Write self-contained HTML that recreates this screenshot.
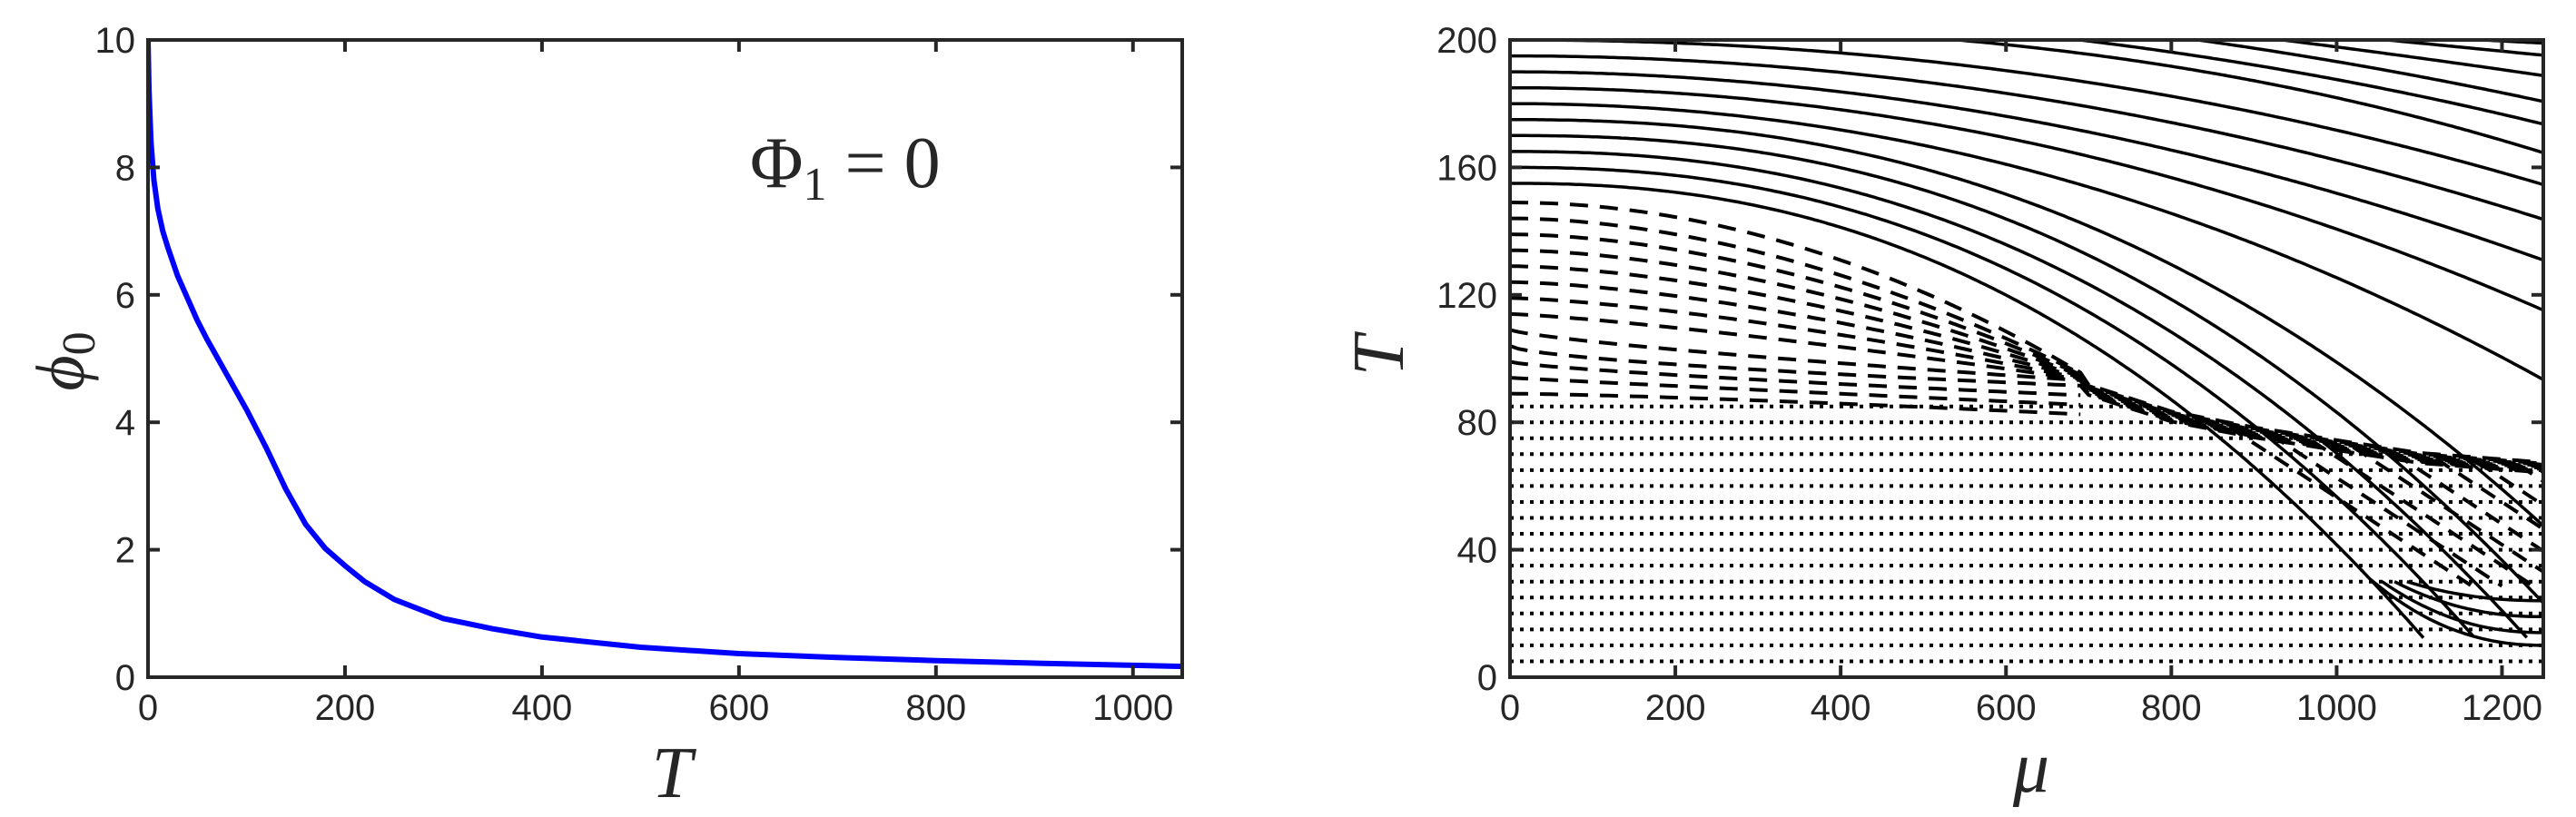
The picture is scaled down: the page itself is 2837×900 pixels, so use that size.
<!DOCTYPE html>
<html><head><meta charset="utf-8">
<style>
html,body{margin:0;padding:0;background:#fff;}
svg{display:block;}
.tk{font-family:"Liberation Sans",sans-serif;font-size:40px;fill:#262626;}
.lab{font-family:"Liberation Serif",serif;font-style:italic;fill:#262626;}
</style></head>
<body>
<svg id="fig" width="2837" height="900" viewBox="0 0 2837 900" xmlns="http://www.w3.org/2000/svg">
<defs>
<clipPath id="clipL"><rect x="163" y="44" width="1139" height="702"/></clipPath>
<clipPath id="clipR"><rect x="1663" y="44" width="1138" height="702"/></clipPath>
</defs>
<g id="left"></g>
<g id="right"></g>
<text class="lab" x="0" y="0" font-size="76" text-anchor="middle" transform="translate(92,398) rotate(-90)">ϕ<tspan font-style="normal" font-size="52" dy="12">0</tspan></text>
<text class="lab" x="740" y="878" font-size="80" text-anchor="middle">T</text>
<text x="826" y="206" font-family="'Liberation Serif',serif" font-size="80" fill="#262626">Φ<tspan font-size="52" dy="14">1</tspan><tspan dy="-14"> = 0</tspan></text>
<text class="lab" x="0" y="0" font-size="80" text-anchor="middle" transform="translate(1545,392) rotate(-90)">T</text>
<text class="lab" x="2237" y="872" font-size="80" text-anchor="middle">μ</text>
</svg>
<script>
// ---------- left chart data ----------
const leftT = [0,1,3,6,10,15,20,30,40,50,60,80,100,120,140,160,180,200,220,250,300,350,400,500,600,700,800,900,1050];
const leftPhi = [10,9.2,8.4,7.8,7.35,7.0,6.75,6.3,5.95,5.6,5.3,4.75,4.2,3.6,2.95,2.4,2.02,1.75,1.5,1.22,0.92,0.76,0.63,0.47,0.37,0.31,0.26,0.22,0.17];
const leftXTicks = [0,200,400,600,800,1000];
const leftYTicks = [0,2,4,6,8,10];
// ---------- right chart data ----------
const rightXTicks = [0,200,400,600,800,1000,1200];
const rightYTicks = [0,40,80,120,160,200];
const solidT0  = [155,160,165,170,175,180,185,190,195,200,205,210,215,220,225,230];
const solidMuA = [480,480,480,480,480,480,480,480,480,480,541,689,832,934,1061,1176];
const solidTA  = [134,141,147.5,154.5,161,168,175,181,187.5,194,200,200,200,200,200,200];
const solidMuB = [930,990,1050,1110,1200,1250,1250,1250,1250,1250,1250,1250,1250,1250,1250,1250];
const solidTB  = [59,59,59,59,59,93.4,115.2,130.9,143.7,154.6,164.6,173.6,180.7,188.8,195.2,199];
const tailExitT = [10,14,19,24];
const dashedT0 = [89,94,99,104,109,114,119,124,129,134,139,144,149];
const dashedT480 = [85,88,91,94,97,101,104,107,110,113,116,119,123];
const envMu = [680,800,900,1000,1100,1250];
const envT = [92,82,77,73,69,66];
const lowerDashStart = [820,870,920,970,1020,1070,1120,1170,1220];
const dottedT = [5,10,15,20,25,30,35,40,45,50,55,60,65,70,75,80,85];

const NS = "http://www.w3.org/2000/svg";
function mk(tag, attrs, parent){const e=document.createElementNS(NS,tag);for(const k in attrs)e.setAttribute(k,attrs[k]);parent.appendChild(e);return e;}

const LX = t => 163 + t*(1139/1050);
const LY = p => 746 - p*70.2;
const RX = m => 1663 + m*(1138/1250);
const RY = T => 746 - T*3.51;

function frame(g, x0,y0,x1,y1, xt, yt, fx, fy, nameP){
  xt.forEach(v=>{
    const x=fx(v);
    const t1=mk('line',{x1:x,x2:x,y1:y1,y2:y1-13,stroke:'#262626','stroke-width':4},g);
    
    
    mk('line',{x1:x,x2:x,y1:y0,y2:y0+13,stroke:'#262626','stroke-width':4},g);
    const tx=mk('text',{x:x,y:793,'text-anchor':'middle',class:'tk'},g);
    tx.textContent=v;
    
    
  });
  yt.forEach(v=>{
    const y=fy(v);
    mk('line',{x1:x0,x2:x0+13,y1:y,y2:y,stroke:'#262626','stroke-width':4},g);
    mk('line',{x1:x1,x2:x1-13,y1:y,y2:y,stroke:'#262626','stroke-width':4},g);
    const tx=mk('text',{x:x0-14,y:y+14,'text-anchor':'end',class:'tk'},g);
    tx.textContent=v;
    
    
  });
  const r=mk('rect',{x:x0,y:y0,width:x1-x0,height:y1-y0,fill:'none',stroke:'#262626','stroke-width':4},g);
  
  
}

// ---- left chart ----
const gL=document.getElementById('left');
const pl=mk('polyline',{points:leftT.map((t,i)=>LX(t)+','+LY(leftPhi[i])).join(' '),fill:'none',stroke:'#0000ff','stroke-width':6,'stroke-linejoin':'round','clip-path':'url(#clipL)'},gL);


frame(gL,163,44,1302,746,leftXTicks,leftYTicks,LX,LY,'left');

// ---- right chart ----
const gR=document.getElementById('right');
const gc=mk('g',{'clip-path':'url(#clipR)'},gR);
function env(m){if(m<=envMu[0])return envT[0];for(let i=1;i<envMu.length;i++){if(m<=envMu[i]){const f=(m-envMu[i-1])/(envMu[i]-envMu[i-1]);return envT[i-1]+f*(envT[i]-envT[i-1]);}}return envT[envT.length-1];}
function fit(T0,mA,TA,mB,TB){
  const r1=Math.max(1-TA/T0,1e-4), r2=Math.max(1-TB/T0,1e-4);
  const p=Math.log(r2/r1)/Math.log(mB/mA);
  const mc=mA/Math.pow(r1,1/p);
  return m=>T0*(1-Math.pow(m/mc,p));
}
function path(pts){return pts.map((p,i)=>(i?'L':'M')+RX(p[0]).toFixed(1)+','+RY(p[1]).toFixed(1)).join(' ');}

// dotted horizontal lines
dottedT.forEach(T=>{
  let end=1250;
  if(T>envT[envT.length-1]){for(let m=680;m<=1250;m+=5){if(env(m)<=T){end=m;break;}}}
  if(T>=envT[0])end=680;
  const p=mk('path',{d:path([[0,T],[end,T]]),fill:'none',stroke:'#000','stroke-width':4,'stroke-dasharray':'4 7'},gc);
  
  
});

// upper dashed lines
dashedT0.forEach((T0,i)=>{
  const TB=Math.min(envT[0]+i*0.3, dashedT480[i]-2.5);
  const f=fit(T0,480,dashedT480[i],690,TB);
  const pts=[];
  for(let m=0;m<=690;m+=10){pts.push([m,f(m)]);}
  if(TB>=envT[0]-1){for(let m=700;m<=1250;m+=10){pts.push([m,env(m)+(i-8)*0.35]);}}
  const p=mk('path',{d:path(pts),fill:'none',stroke:'#000','stroke-width':4,'stroke-dasharray':'20 13'},gc);
  
  
});

// solid lines
const solidFns = solidT0.map((T0,i)=>fit(T0,solidMuA[i],solidTA[i],solidMuB[i],solidTB[i]));
solidFns.forEach(f=>{
  const pts=[];
  for(let m=0;m<=1250;m+=5){const T=f(m);if(T<12)break;pts.push([m,T]);}
  const p=mk('path',{d:path(pts),fill:'none',stroke:'#000','stroke-width':3.5},gc);
  
  
});

// lower dashed lines
const boundary = m => Math.max(solidFns[0](m),28);
lowerDashStart.forEach(ms=>{
  const pts=[];
  for(let m=ms;m<=1250;m+=5){const T=env(ms)-0.17*(m-ms);if(T<boundary(m))break;pts.push([m,T]);}
  if(pts.length>1){
    const p=mk('path',{d:path(pts),fill:'none',stroke:'#000','stroke-width':4,'stroke-dasharray':'18 12'},gc);
    
    
  }
});

// solid tails bending to the right edge
tailExitT.forEach((Te,i)=>{
  const m0=1040+i*15, T0=Math.max(solidFns[0](m0),30);
  const pts=[];
  for(let k=0;k<=20;k++){const f=k/20;const m=m0+f*(1250-m0);const T=Te+(T0-Te)*Math.pow(1-f,2.2);pts.push([m,T]);}
  const p=mk('path',{d:path(pts),fill:'none',stroke:'#000','stroke-width':3.5},gc);
  
  
});

frame(gR,1663,44,2801,746,rightXTicks,rightYTicks,RX,RY,'right');
</script>
</body></html>
